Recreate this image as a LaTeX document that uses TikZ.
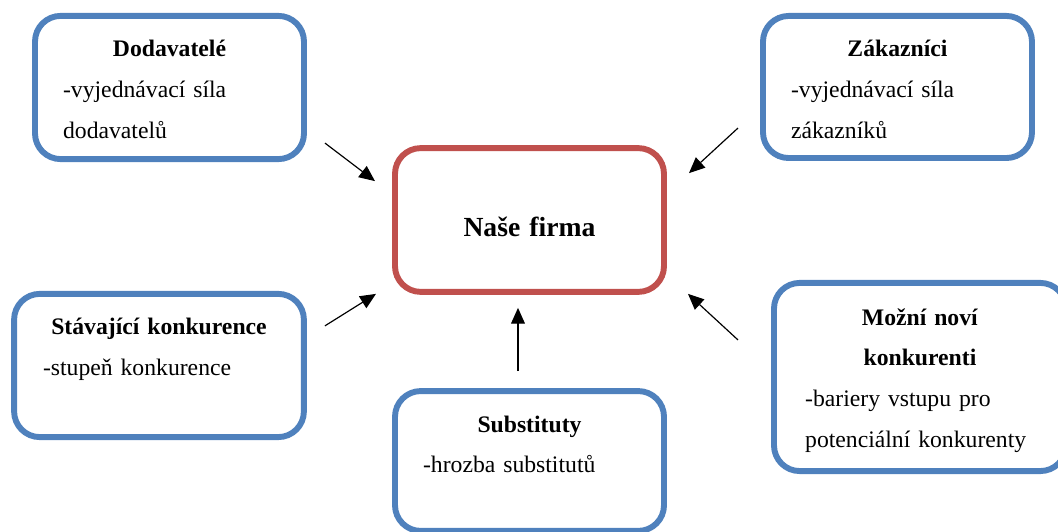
\documentclass[tikz,border=0pt]{standalone}
\usepackage{fontspec}
\setmainfont{Liberation Serif}
\usetikzlibrary{arrows.meta,positioning,calc}
\definecolor{boxblue}{HTML}{4F81BD}
\definecolor{boxred}{HTML}{C0504D}
\setlength{\parindent}{0pt}

\begin{document}
\begin{tikzpicture}[x=0.0178cm,y=0.0178cm,
 force/.style={rounded corners=13pt,draw=boxblue,line width=3pt,outer sep=0pt,minimum width=4.79cm,minimum height=2.55cm},
 firm/.style={force,draw=boxred},
 desc/.style={inner sep=0pt,align=left,text width=3.79cm,font=\fontsize{12}{20.6}\selectfont},
 push/.style={-{Triangle[length=8pt,width=7pt]},line width=0.6pt}]
\useasboundingbox (0,0) rectangle (1058,-532);
% boxes
\node[firm,minimum height=2.56cm] (firma) at (529.5,-220) {};
\node[force] (dod) at (169.5,-87.5) {};
\node[force,minimum height=2.53cm] (zak) at (897.5,-87) {};
\node[force,minimum width=5.16cm] (stav) at (159,-365.5) {};
\node[force,minimum width=5.2cm,minimum height=3.35cm] (mozni) at (920,-377) {};
\node[force,minimum height=2.49cm] (sub) at (529.5,-461) {};
% texts
\node[desc,align=center,font=\fontsize{14}{17}\selectfont\bfseries,below=1.57cm of firma.north,anchor=base] (firmatxt) {Naše firma};
\node[desc,below=0.73cm of dod.north,anchor=base] (dodtxt) {{\centering\textbf{Dodavatelé}\par}-vyjednávací síla\\dodavatelů};
\node[desc,below=0.73cm of zak.north,anchor=base] (zaktxt) {{\centering\textbf{Zákazníci}\par}-vyjednávací síla\\zákazníků};
\node[desc,text width=4.13cm,below=0.73cm of stav.north,anchor=base] (stavtxt) {{\centering\textbf{Stávající konkurence}\par}-stupeň konkurence};
\node[desc,text width=4.09cm,below=0.75cm of mozni.north,anchor=base] (moznitxt) {{\centering\textbf{Možní noví}\\\textbf{konkurenti}\par}-bariery vstupu pro\\potenciální konkurenty};
\node[desc,below=0.73cm of sub.north,anchor=base] (subtxt) {{\centering\textbf{Substituty}\par}-hrozba substitutů};
% arrows
\draw[push] ($(dod.south east)+(21,16)$) -- ($(firma.north west)+(-20,-33)$);
\draw[push] ($(zak.south west)+(-25,30)$) -- ($(firma.north east)+(25,-25)$);
\draw[push] ($(stav.north east)+(21,-32)$) -- ($(firma.south west)+(-19,-2)$);
\draw[push] ($(mozni.north west)+(-36,-57)$) -- ($(firma.south east)+(24,-2)$);
\draw[push] ($(sub.north)+(-11.5,20)$) -- ($(firma.south)+(-11.5,-16)$);
\end{tikzpicture}
\end{document}
